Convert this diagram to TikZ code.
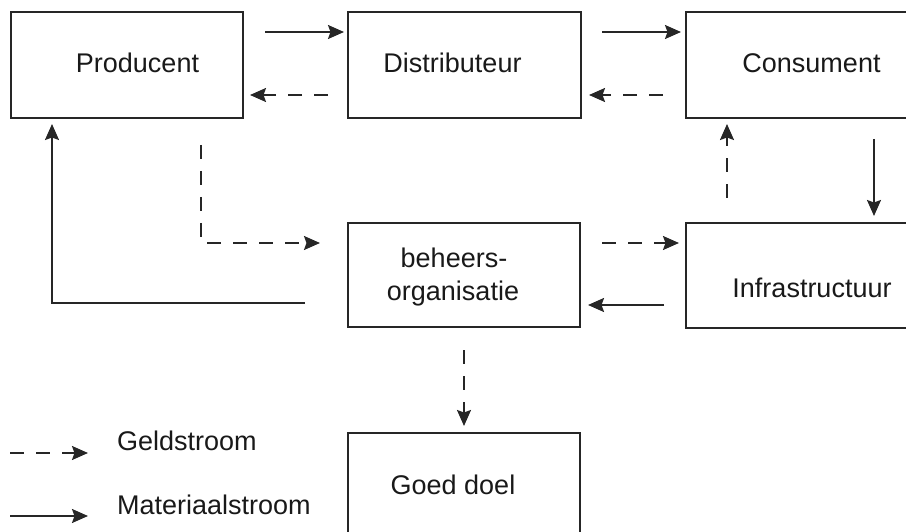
\documentclass[tikz,border=0pt]{standalone}
\usepackage{fontspec}
\setmainfont{Liberation Sans}
\usetikzlibrary{arrows.meta,calc}
\begin{document}
\begin{tikzpicture}[x=1pt,y=-1pt,
  box/.style={draw=black!85, line width=2pt, inner sep=0pt, anchor=north west},
  lbl/.style={font=\fontsize{27}{33}\selectfont, inner sep=0pt, anchor=base, text=black!90},
  tip/.style={-{Stealth[length=16pt,width=14pt,inset=2.5pt]}},
  mat/.style={tip, line width=2pt, draw=black!85},
  geld/.style={tip, line width=2pt, draw=black!85, dash pattern=on 14pt off 12pt},
]
\useasboundingbox (0,0) rectangle (906,532);
\clip (0,0) rectangle (906,532);

% boxes
\node[box, minimum width=232pt, minimum height=106pt] (prod)  at (10,11)   {};
\node[box, minimum width=233pt, minimum height=106pt] (dist)  at (347,11)  {};
\node[box, minimum width=260pt, minimum height=106pt] (cons)  at (685,11)  {};
\node[box, minimum width=232pt, minimum height=104pt] (beh)   at (347,222) {};
\node[box, minimum width=260pt, minimum height=105pt] (infra) at (685,222) {};
\node[box, minimum width=232pt, minimum height=130pt] (goed)  at (347,432) {};

% box texts
\node[lbl] (prodtxt)  at (137.5,73) {Producent};
\node[lbl] (disttxt)  at (452.5,73) {Distributeur};
\node[lbl] (constxt)  at (811.5,73) {Consument};
\node[lbl] (behtxta)  at (454,268)  {beheers-};
\node[lbl] (behtxtb)  at (453,301)  {organisatie};
\node[lbl] (infratxt) at (812,298)  {Infrastructuur};
\node[lbl] (goedtxt)  at (453,494)  {Goed doel};

% flows between the boxes
\draw[mat]  ($(prod.north east)+(21,21)$) -- ($(dist.north west)+(-3,21)$);
\draw[geld] ($(dist.north west)+(-19,84)$) -- ($(prod.north east)+(6,84)$);
\draw[mat]  ($(dist.north east)+(20,21)$) -- ($(cons.north west)+(-4,21)$);
\draw[geld] ($(cons.north west)+(-22,84)$) -- ($(dist.north east)+(7,84)$);
\draw[mat]  ($(cons.south west)+(189,20)$) -- ($(infra.north west)+(189,-6)$);
\draw[geld] ($(infra.north west)+(42,-24)$) -- ($(cons.south west)+(42,5)$);
\draw[geld] ($(beh.north east)+(21,21)$) -- ($(infra.north west)+(-6,21)$);
\draw[mat]  ($(infra.north west)+(-21,83)$) -- ($(beh.north east)+(7,83)$);
\draw[geld] ($(beh.south)+(0,22)$) -- ($(goed.north)+(0,-6)$);
\draw[geld] ($(prod.south)+(74,26)$) |- ($(beh.north west)+(-27,21)$);
\draw[mat]  ($(beh.north west)+(-42,81)$) -| ($(prod.south west)+(42,5)$);

% legend
\coordinate (ga) at (10,453);
\coordinate (gb) at (88,453);
\coordinate (ma) at (10,516);
\coordinate (mb) at (88,516);
\draw[geld] (ga) -- (gb);
\draw[mat]  (ma) -- (mb);
\node[lbl, anchor=base west] (geldtxt) at (117,450) {Geldstroom};
\node[lbl, anchor=base west] (mattxt)  at (117,514) {Materiaalstroom};
\end{tikzpicture}
\end{document}
